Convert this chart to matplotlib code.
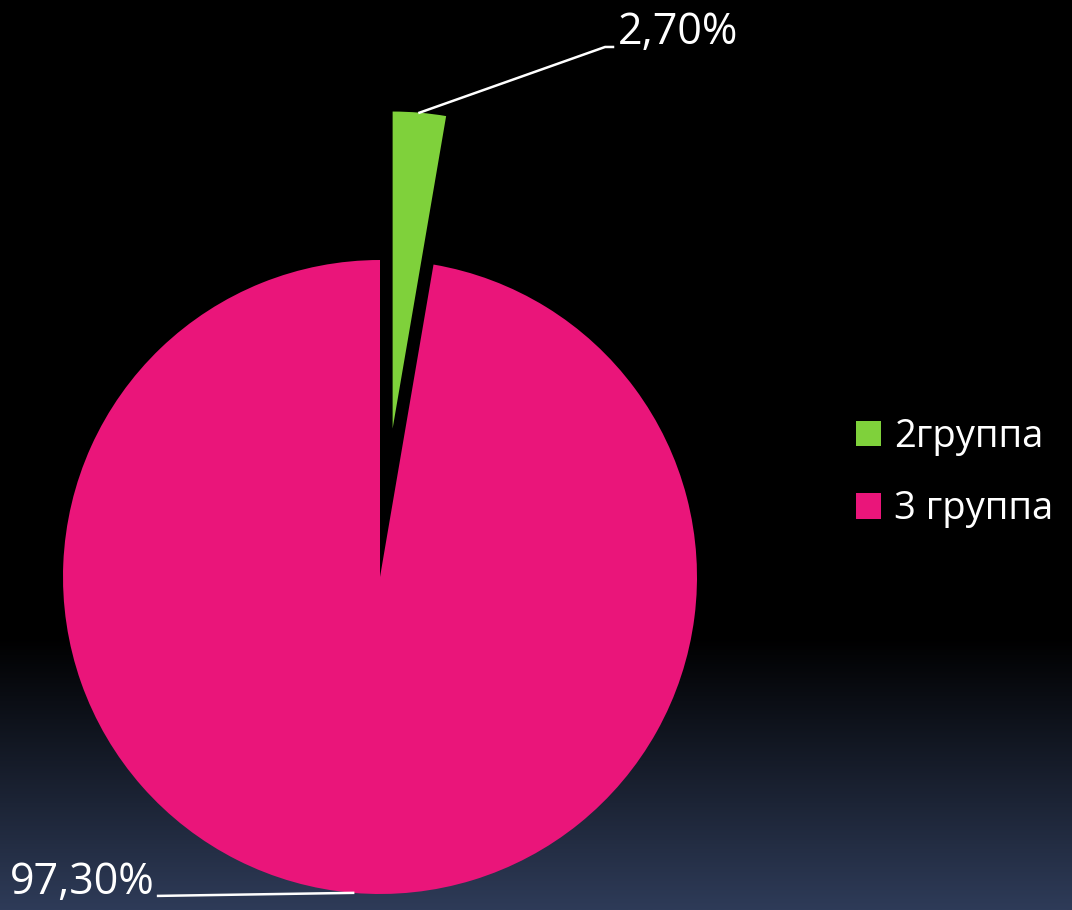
import matplotlib
matplotlib.use("Agg")
import matplotlib.pyplot as plt
import numpy as np
from matplotlib.patches import Patch

plt.rcParams["font.family"] = ["Open Sans", "DejaVu Sans"]

labels = ["2группа", "3 группа"]
shares = [2.7, 97.3]
share_labels = ["2,70%", "97,30%"]
colors = ["#7FD13B", "#EA157A"]

W, H = 1072, 910
cx, cy, r = 380, 577, 317

fig = plt.figure(figsize=(W / 100, H / 100), dpi=100)

# background: black fading to slate blue at the bottom
bg = fig.add_axes([0, 0, 1, 1], zorder=0)
rows = np.linspace(0, 1, 400)
grad = np.clip((rows - 0.70) / 0.30, 0, 1)
top = np.array([0, 0, 0])
bottom = np.array([0x2E, 0x3B, 0x58]) / 255
img = (top[None, :] * (1 - grad[:, None]) + bottom[None, :] * grad[:, None])[:, None, :]
bg.imshow(img, aspect="auto", extent=[0, 1, 1, 0])
bg.axis("off")

ax = fig.add_axes([0, 0, 1, 1], zorder=1)
ax.patch.set_alpha(0)
wedges, _ = ax.pie(
    shares,
    colors=colors,
    startangle=90,
    counterclock=False,
    explode=[0.47, 0],
    radius=1,
)
ax.set_aspect("auto")
ax.set_xlim(-cx / r, (W - cx) / r)
ax.set_ylim(-(H - cy) / r, cy / r)
ax.axis("off")

# mid angle of each slice
angles = []
start = 90
for s in shares:
    angles.append(np.deg2rad(start - s / 100 * 360 / 2))
    start -= s / 100 * 360

# green (exploded) label
a = angles[0]
off = 0.47
p0 = ((1 + off) * np.cos(a), (1 + off) * np.sin(a))
ax.plot([p0[0], 0.71, 0.735], [p0[1], 1.672, 1.672], color="white", lw=1.8)
ax.text(0.75, 1.68, share_labels[0], color="white", fontsize=31,
        ha="left", va="baseline")

# pink label
a = angles[1]
p1 = (np.cos(a), np.sin(a))
ax.plot([p1[0], -0.70], [p1[1], -1.006], color="white", lw=1.8)
ax.text(-0.71, -1.0, share_labels[1], color="white", fontsize=31,
        ha="right", va="baseline")

handles = [Patch(facecolor=c, edgecolor="none") for c in colors]
fig.legend(
    handles,
    labels,
    loc="center left",
    bbox_to_anchor=(856 / W, 1 - 473 / H),
    frameon=False,
    fontsize=27.5,
    labelcolor="white",
    handlelength=0.66,
    handleheight=0.66,
    handletextpad=0.33,
    labelspacing=0.9,
    borderpad=0,
    borderaxespad=0,
)

fig.savefig("out.png", dpi=100, facecolor="black")
